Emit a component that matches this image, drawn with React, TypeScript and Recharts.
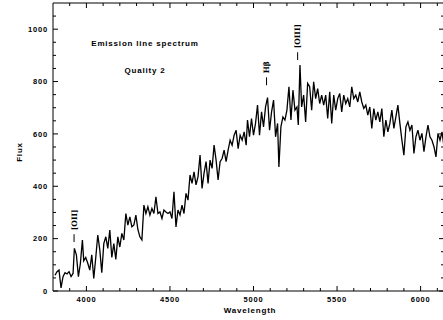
import { LineChart, Line, XAxis, YAxis, ReferenceLine, ReferenceDot } from 'recharts';

// spectrum (Angstrom, flux)
const wavelength = [
  3812, 3824, 3836, 3848, 3860, 3872, 3884, 3896, 3908, 3920, 3928, 3940, 3952, 3964, 3976, 3984, 3996,
  4008, 4020, 4032, 4044, 4056, 4068, 4080, 4092, 4104, 4116, 4128, 4140, 4152, 4164, 4176, 4188, 4200,
  4212, 4224, 4236, 4248, 4260, 4272, 4284, 4296, 4308, 4320, 4332, 4344, 4356, 4368, 4380, 4392, 4404,
  4416, 4428, 4440, 4452, 4464, 4476, 4488, 4500, 4512, 4524, 4536, 4548, 4560, 4572, 4584, 4596, 4608,
  4620, 4632, 4644, 4656, 4668, 4680, 4692, 4704, 4716, 4728, 4740, 4752, 4764, 4776, 4788, 4800, 4812,
  4824, 4836, 4848, 4860, 4872, 4884, 4896, 4908, 4920, 4932, 4944, 4956, 4964, 4976, 4988, 5000, 5012,
  5024, 5036, 5048, 5060, 5072, 5084, 5096, 5108, 5120, 5132, 5144, 5152, 5164, 5176, 5188, 5200, 5212,
  5224, 5236, 5248, 5260, 5268, 5278, 5288, 5300, 5312, 5324, 5336, 5348, 5360, 5372, 5384, 5396, 5408,
  5420, 5432, 5444, 5456, 5468, 5480, 5492, 5504, 5516, 5528, 5540, 5552, 5564, 5576, 5588, 5600, 5612,
  5624, 5636, 5648, 5660, 5672, 5684, 5696, 5708, 5720, 5732, 5744, 5756, 5768, 5780, 5792, 5804, 5816,
  5828, 5840, 5852, 5864, 5876, 5888, 5900, 5912, 5924, 5936, 5948, 5960, 5972, 5984, 5996, 6008, 6020,
  6032, 6044, 6056, 6068, 6080, 6092, 6104, 6116, 6128, 6140,
];
const flux = [
  60, 74, 80, 12, 55, 70, 65, 74, 55, 67, 163, 138, 55, 106, 195, 115, 128,
  106, 80, 138, 48, 128, 214, 157, 70, 181, 207, 163, 233, 128, 181, 121, 207, 168,
  220, 195, 296, 252, 283, 245, 252, 290, 235, 207, 195, 328, 296, 322, 290, 315, 296,
  360, 296, 302, 277, 309, 302, 296, 302, 277, 379, 245, 309, 290, 328, 296, 373, 347,
  443, 411, 455, 405, 437, 519, 392, 450, 494, 411, 500, 468, 557, 500, 424, 494, 506,
  538, 494, 538, 576, 557, 595, 614, 544, 595, 576, 608, 557, 653, 589, 659, 595, 640,
  710, 595, 684, 627, 703, 739, 614, 684, 729, 589, 640, 474, 627, 665, 653, 691, 780,
  653, 767, 691, 703, 634, 863, 703, 748, 646, 793, 780, 691, 799, 735, 773, 716, 748,
  710, 748, 659, 761, 640, 748, 691, 735, 754, 684, 748, 716, 735, 703, 780, 735, 748,
  722, 761, 722, 697, 710, 672, 703, 621, 697, 653, 684, 646, 697, 589, 653, 608, 640,
  691, 621, 665, 710, 640, 576, 519, 627, 646, 614, 634, 525, 589, 614, 576, 602, 532,
  589, 634, 589, 576, 551, 512, 602, 576, 608, 551,
];

const xTicks = [3900, 4000, 4100, 4200, 4300, 4400, 4500, 4600, 4700, 4800, 4900, 5000, 5100, 5200, 5300, 5400, 5500, 5600, 5700, 5800, 5900, 6000, 6100];
const xLabels = [4000, 4500, 5000, 5500, 6000];
const yTicks = [0, 50, 100, 150, 200, 250, 300, 350, 400, 450, 500, 550, 600, 650, 700, 750, 800, 850, 900, 950, 1000, 1050];
const yLabels = [0, 200, 400, 600, 800, 1000];

// emission line markers: label, wavelength, dash from/to in flux
const lineNames = ['[OII]', 'H\u03B2', '[OIII]'];
const lineWave = [3926, 5078, 5264];
const lineLow = [187, 786, 882];
const lineHigh = [217, 816, 912];

const data = wavelength.map((w, i) => ({ lam: w, flux: flux[i] }));

const font = '"Liberation Sans", Arial, sans-serif';

function BottomTick(props: any) {
  const { x, y, payload } = props;
  const major = xLabels.includes(payload.value);
  return (
    <g>
      <line x1={x} x2={x} y1={y} y2={y - (major ? 5 : 3)} stroke="#000" strokeWidth={1} />
      {major && (
        <text x={x} y={y + 11} textAnchor="middle" fontSize={7.5} fontWeight="bold" fontFamily={font} letterSpacing={0.8} fill="#000">
          {payload.value}
        </text>
      )}
    </g>
  );
}

function TopTick(props: any) {
  const { x, y, payload } = props;
  const major = xLabels.includes(payload.value);
  return <line x1={x} x2={x} y1={y} y2={y + (major ? 5 : 3)} stroke="#000" strokeWidth={1} />;
}

function LeftTick(props: any) {
  const { x, y, payload } = props;
  const major = yLabels.includes(payload.value);
  return (
    <g>
      <line x1={x} x2={x + (major ? 5 : 3)} y1={y} y2={y} stroke="#000" strokeWidth={1} />
      {major && (
        <text x={x - 5} y={y} dy="0.35em" textAnchor="end" fontSize={7.5} fontWeight="bold" fontFamily={font} letterSpacing={0.8} fill="#000">
          {payload.value}
        </text>
      )}
    </g>
  );
}

function RightTick(props: any) {
  const { x, y, payload } = props;
  const major = yLabels.includes(payload.value);
  return <line x1={x} x2={x - (major ? 5 : 3)} y1={y} y2={y} stroke="#000" strokeWidth={1} />;
}

// rotated label sitting just above the top of a marker dash
function LineLabel(props: any) {
  const { cx, cy, text } = props;
  if (cx == null || cy == null) return null;
  const y = cy - 4;
  return (
    <text
      x={cx}
      y={y}
      dy="0.35em"
      transform={`rotate(-90 ${cx} ${y})`}
      textAnchor="start"
      fontSize={7.5}
      fontWeight="bold"
      fontFamily='"DejaVu Serif", "Liberation Serif", serif'
      letterSpacing={0}
      fill="#000"
    >
      {text}
    </text>
  );
}

export default function App() {
  return (
    <div style={{ position: 'absolute', left: 0, top: 0, width: 443, height: 320, overflow: 'hidden', background: '#fff' }}>
      <LineChart width={446} height={320} data={data} margin={{ top: 0, right: 0, bottom: 0, left: 0 }}>
        <XAxis
          dataKey="lam"
          type="number"
          domain={[3800, 6140]}
          allowDataOverflow
          ticks={xTicks}
          interval={0}
          tickSize={0}
          tickMargin={0}
          tickLine={false}
          tick={<BottomTick />}
          height={29}
          stroke="#000"
        />
        <XAxis
          xAxisId="top"
          orientation="top"
          dataKey="lam"
          type="number"
          domain={[3800, 6140]}
          allowDataOverflow
          ticks={xTicks}
          interval={0}
          tickSize={0}
          tickMargin={0}
          tickLine={false}
          tick={<TopTick />}
          height={3}
          stroke="#000"
        />
        <YAxis
          type="number"
          domain={[0, 1100]}
          allowDataOverflow
          ticks={yTicks}
          interval={0}
          tickSize={0}
          tickMargin={0}
          tickLine={false}
          tick={<LeftTick />}
          width={53}
          stroke="#000"
        />
        <YAxis
          yAxisId="right"
          orientation="right"
          type="number"
          domain={[0, 1100]}
          allowDataOverflow
          ticks={yTicks}
          interval={0}
          tickSize={0}
          tickMargin={0}
          tickLine={false}
          tick={<RightTick />}
          width={2}
          stroke="#000"
        />
        <Line
          dataKey="flux"
          type="linear"
          stroke="#000"
          strokeWidth={1.3}
          dot={false}
          isAnimationActive={false}
        />
        {lineNames.map((name, i) => (
          <ReferenceLine
            key={'seg' + name}
            segment={[{ x: lineWave[i], y: lineLow[i] }, { x: lineWave[i], y: lineHigh[i] }]}
            stroke="#000"
            strokeWidth={1}
          />
        ))}
        {lineNames.map((name, i) => (
          <ReferenceDot
            key={'lab' + name}
            x={lineWave[i]}
            y={lineHigh[i]}
            r={0}
            shape={(p: any) => <LineLabel cx={p.cx} cy={p.cy} text={name} />}
          />
        ))}
        <text x={145} y={43} dy="0.35em" textAnchor="middle" fontSize={8} fontWeight="bold" fontFamily={font} letterSpacing={0.8} fill="#000">
          Emission line spectrum
        </text>
        <text x={145} y={70} dy="0.35em" textAnchor="middle" fontSize={8} fontWeight="bold" fontFamily={font} letterSpacing={0.8} fill="#000">
          Quality 2
        </text>
        <text x={250} y={310} dy="0.35em" textAnchor="middle" fontSize={8} fontWeight="bold" fontFamily={font} letterSpacing={0.8} fill="#000">
          Wavelength
        </text>
        <text x={19} y={152} dy="0.35em" transform="rotate(-90 19 152)" textAnchor="middle" fontSize={8} fontWeight="bold" fontFamily={font} letterSpacing={0.8} fill="#000">
          Flux
        </text>
      </LineChart>
    </div>
  );
}
